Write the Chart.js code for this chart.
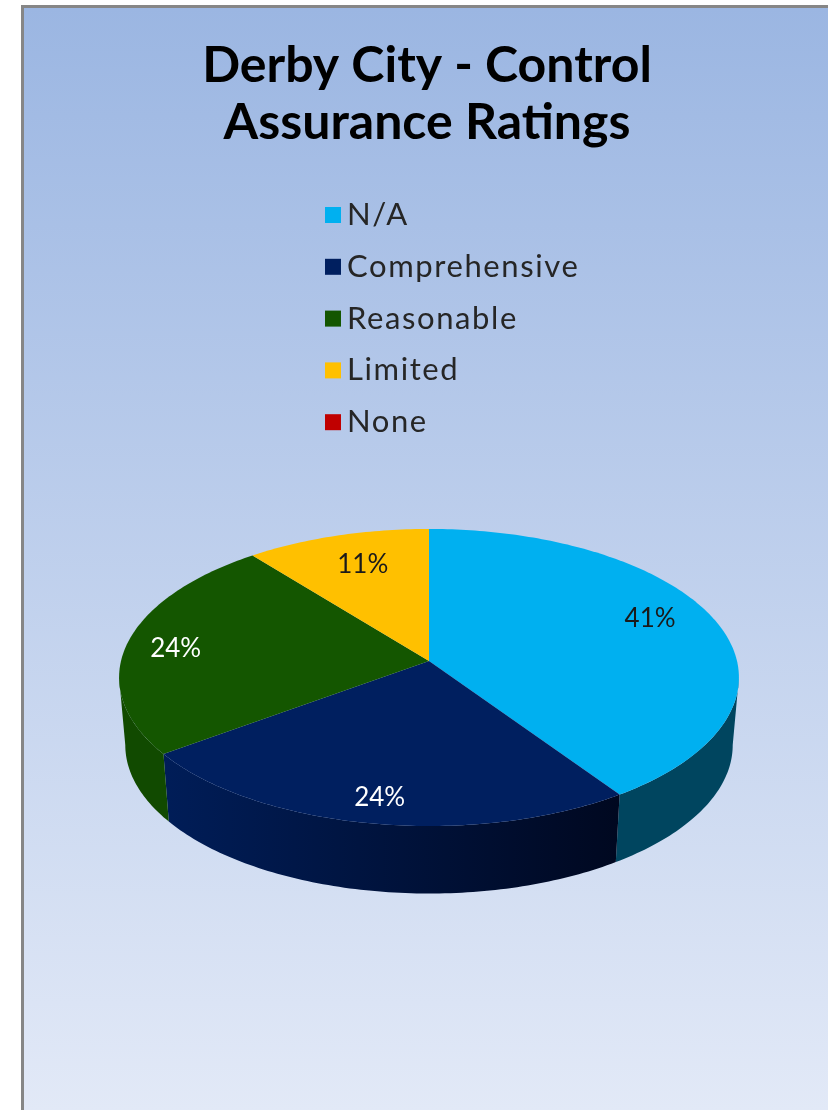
<!DOCTYPE html>
<html>
<head>
    <title>Derby City - Control Assurance Ratings</title>
    <style>
        body {margin: 0; background: #fff;}
        canvas {display: block;}
    </style>
    <script src="https://cdn.jsdelivr.net/npm/chart.js"></script>
</head>
<body>
    <canvas id="chart" width="828" height="1110" style="width:828px;height:1110px"></canvas>
<script>
    var titleLines = ['Derby City - Control', 'Assurance Ratings'];
    var ratings = ['N/A', 'Comprehensive', 'Reasonable', 'Limited', 'None'];
    var percents = [40.5, 24.4, 24.4, 10.7, 0];

    var colors = ['#00B0F0', '#001F5F', '#145600', '#FFC000', '#C00000'];
    var wallColors = [['#00455F', '#00455F'], ['#001D58', '#000820'], ['#114A00', '#114A00'], ['#B08500', '#B08500'], ['#800000', '#800000']];
    var labelColors = ['#1a1a1a', '#ffffff', '#ffffff', '#1a1a1a', '#1a1a1a'];
    var labelSpots = [[0.77, -10], [0.86, -1], [0.84, 4], [0.7, -6], [0.8, 0]]; // radius fraction, y nudge
    var fontFamily = 'Lato, "Open Sans", sans-serif';

    // tilted pie with a bit of perspective, apex sits above the ellipse middle
    var cx = 429, cy = 661, radX = 308, radY = 146.7, persp = 0.111, depth = 67.5;

    function project(theta, r, drop, shrink) {
        var w = 1 + persp * r * Math.cos(theta);
        return {
            x: cx + radX * r * shrink * Math.sin(theta) / w,
            y: cy + drop - radY * r * Math.cos(theta) / w
        };
    }

    function traceEdge(ctx, from, to, drop, shrink) {
        var steps = Math.max(2, Math.ceil(Math.abs(to - from) * 60));
        for (var i = 0; i <= steps; i++) {
            var p = project(from + (to - from) * i / steps, 1, drop, shrink);
            ctx.lineTo(p.x, p.y);
        }
    }

    var tiltedPie = {
        id: 'tiltedPie',
        beforeDraw: function(chart) {
            var ctx = chart.ctx;
            var bg = ctx.createLinearGradient(0, 8, 0, 1110);
            bg.addColorStop(0, '#9BB6E2');
            bg.addColorStop(1, '#E2E9F7');
            ctx.save();
            ctx.fillStyle = '#ffffff';
            ctx.fillRect(0, 0, 828, 1110);
            ctx.fillStyle = '#868686';
            ctx.fillRect(21, 5, 807, 1105);
            ctx.fillStyle = bg;
            ctx.fillRect(24, 8, 804, 1102);
            ctx.restore();
        },
        beforeDatasetsDraw: function(chart) {
            var ctx = chart.ctx;
            var arcs = chart.getDatasetMeta(0).data;
            // the wall only shows between the two points where the rim is widest
            var edgeA = Math.acos(-persp), edgeB = 2 * Math.PI - edgeA;
            ctx.save();
            arcs.forEach(function(arc, i) {
                var from = Math.max(arc.startAngle + Math.PI / 2, edgeA);
                var to = Math.min(arc.endAngle + Math.PI / 2, edgeB);
                if (to - from < 0.001) return;
                var a = project(from, 1, 0, 1), b = project(to, 1, 0, 1);
                var wall = ctx.createLinearGradient(Math.min(a.x, b.x), 0, Math.max(a.x, b.x), 0);
                wall.addColorStop(0, wallColors[i][0]);
                wall.addColorStop(1, wallColors[i][1]);
                ctx.beginPath();
                ctx.moveTo(a.x, a.y);
                traceEdge(ctx, from, to, 0, 1);
                traceEdge(ctx, to, from, depth, 0.98);
                ctx.closePath();
                ctx.fillStyle = wall;
                ctx.fill();
            });
            arcs.forEach(function(arc, i) {
                var from = arc.startAngle + Math.PI / 2, to = arc.endAngle + Math.PI / 2;
                if (to - from < 0.001) return;
                ctx.beginPath();
                ctx.moveTo(cx, cy);
                traceEdge(ctx, from, to, 0, 1);
                ctx.closePath();
                ctx.fillStyle = colors[i];
                ctx.fill();
            });
            // percent labels
            ctx.font = '26px ' + fontFamily;
            ctx.textAlign = 'center';
            ctx.textBaseline = 'middle';
            arcs.forEach(function(arc, i) {
                if (!percents[i]) return;
                var mid = (arc.startAngle + arc.endAngle) / 2 + Math.PI / 2;
                var p = project(mid, labelSpots[i][0], 0, 1);
                ctx.fillStyle = labelColors[i];
                ctx.fillText(Math.round(percents[i]) + '%', p.x, p.y + labelSpots[i][1]);
            });
            ctx.restore();
            return false;
        },
        afterDraw: function(chart) {
            // legend stacked in the middle, library one can't do this gap
            var ctx = chart.ctx;
            ctx.save();
            ctx.font = '31px ' + fontFamily;
            ctx.letterSpacing = '1.6px';
            ctx.textAlign = 'left';
            ctx.textBaseline = 'middle';
            ratings.forEach(function(name, i) {
                var y = 215 + i * 51.8;
                ctx.fillStyle = colors[i];
                ctx.fillRect(325, y - 8, 16, 16);
                ctx.fillStyle = '#262626';
                ctx.fillText(name, 347, y);
            });
            ctx.restore();
        }
    };

    var chart = new Chart(document.getElementById('chart').getContext('2d'), {
        type: 'pie',
        data: {
            labels: ratings,
            datasets: [{data: percents, backgroundColor: colors, borderWidth: 0}]
        },
        options: {
            responsive: false,
            animation: false,
            layout: {padding: {left: 26}},
            plugins: {
                legend: {display: false},
                tooltip: {enabled: false},
                title: {
                    display: true,
                    text: titleLines,
                    color: '#000000',
                    font: {family: fontFamily, size: 50, weight: 'bold', lineHeight: 1.14},
                    padding: {top: 37, bottom: 10}
                }
            }
        },
        plugins: [tiltedPie]
    });
</script>
</body>
</html>
